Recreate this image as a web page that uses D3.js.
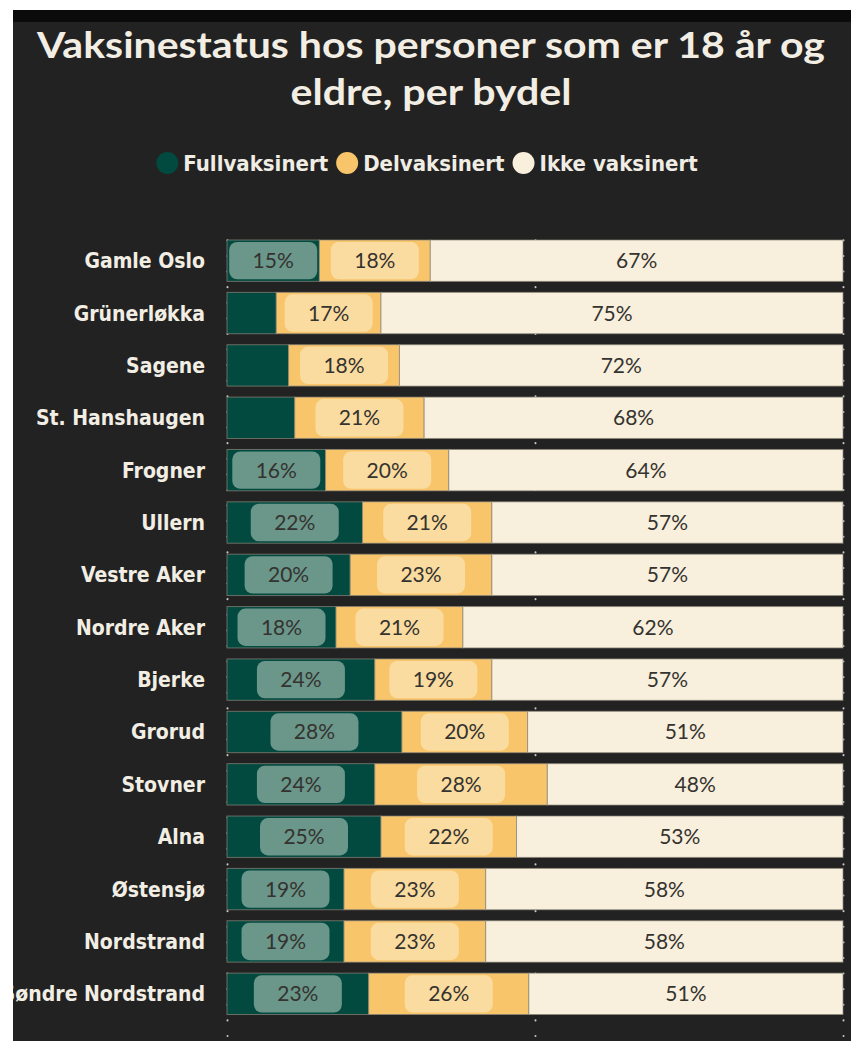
<!DOCTYPE html>
<html>
<head>
<meta charset="utf-8">
<script src="https://cdn.jsdelivr.net/npm/d3@7"></script>
<style>
  body{margin:0;background:#ffffff;}
  text{font-family:Lato,"DejaVu Sans",sans-serif;}
  .cond{font-family:"DejaVu Sans Condensed","DejaVu Sans",sans-serif;font-stretch:condensed;}
</style>
</head>
<body>
<div id="chart-area"></div>
<script>
// data (percent of people 18+)
var bydeler=["Gamle Oslo","Grünerløkka","Sagene","St. Hanshaugen","Frogner","Ullern","Vestre Aker",
  "Nordre Aker","Bjerke","Grorud","Stovner","Alna","Østensjø","Nordstrand","Søndre Nordstrand"];
var fullvaksinert=[15,8,10,11,16,22,20,17.7,24,28.4,24,25,19,19,23];
var delvaksinert=[18,17,18,21,20,21,23,20.6,19,20.4,28,22,23,23,26];
var ikkeVaksinert=[67,75,72,68,64,57,57,61.7,57,51.2,48,53,58,58,51];
var seriesNames=["Fullvaksinert","Delvaksinert","Ikke vaksinert"];
var gridTicks=[0,50,100];

var width=851, height=1041;
var colors=["#02493f","#f8c56b","#f8efdc"];
var labelBg=["#6b968a","#fbdca0","#f8efdc"];

var svg=d3.select("#chart-area").append("svg")
  .attr("width",width)
  .attr("height",height);

svg.append("defs").append("clipPath")
  .attr("id","panel")
  .append("rect")
  .attr("x",13).attr("y",10).attr("width",838).attr("height",1031);

var panel=svg.append("g").attr("clip-path","url(#panel)");

panel.append("rect")
  .attr("x",13).attr("y",10).attr("width",838).attr("height",1031)
  .attr("fill","#222222");
panel.append("rect")
  .attr("x",13).attr("y",10).attr("width",838).attr("height",12)
  .attr("fill","#0b0b0b");

// title
var title=panel.append("text")
  .attr("text-anchor","middle")
  .attr("font-size","36px")
  .attr("font-weight","bold")
  .attr("fill","#f2eee4");
title.append("tspan").attr("x",431).attr("y",58)
  .attr("textLength",788).attr("lengthAdjust","spacingAndGlyphs")
  .text("Vaksinestatus hos personer som er 18 år og");
title.append("tspan").attr("x",431).attr("y",105)
  .attr("textLength",281).attr("lengthAdjust","spacingAndGlyphs")
  .text("eldre, per bydel");

// legend
var legend=panel.append("g");
var lx=0;
seriesNames.forEach(function(d,i){
  var item=legend.append("g").attr("transform","translate("+lx+",0)");
  item.append("circle")
    .attr("cx",11).attr("cy",0).attr("r",11)
    .attr("fill",colors[i]);
  var t=item.append("text")
    .attr("class","cond")
    .attr("x",27).attr("y",8)
    .attr("font-size","22px")
    .attr("font-weight","bold")
    .attr("fill","#f0ede4")
    .text(d);
  lx+=27+t.node().getComputedTextLength()+8;
});
lx-=8;
legend.attr("transform","translate("+(427-lx/2)+",163)");

// scales
var x=d3.scaleLinear().domain([0,100]).range([227,843]);
var y=d3.scaleBand().domain(bydeler).range([234.5,1020])
  .paddingInner(0.21).paddingOuter(0.105);

// dotted gridlines
var gridAxis=d3.axisBottom(x)
  .tickValues(gridTicks)
  .tickSize(-(1036-228))
  .tickFormat("");
panel.append("g")
  .attr("class","grid")
  .attr("transform","translate(0,1036)")
  .call(gridAxis)
  .call(function(g){g.select(".domain").remove();})
  .selectAll("line")
    .attr("stroke","#c8c8c8")
    .attr("stroke-width",2)
    .attr("stroke-linecap","round")
    .attr("stroke-dasharray","0.1,15.5");

// category axis labels
panel.append("g").selectAll("text")
  .data(bydeler)
  .enter().append("text")
    .attr("class","cond")
    .attr("x",205)
    .attr("y",function(d){return y(d)+y.bandwidth()/2+7.5;})
    .attr("text-anchor","end")
    .attr("font-size","21px")
    .attr("font-weight","bold")
    .attr("fill","#f2eee4")
    .text(function(d){return d;});

// stacked bars
var rows=bydeler.map(function(d,i){
  return {bydel:d,s0:fullvaksinert[i],s1:delvaksinert[i],s2:ikkeVaksinert[i]};
});
var stack=d3.stack().keys(["s0","s1","s2"]);
var layers=stack(rows);

var groups=panel.append("g").selectAll("g")
  .data(layers)
  .enter().append("g")
    .attr("fill",function(d,i){return colors[i];});

groups.selectAll("rect")
  .data(function(d){return d;})
  .enter().append("rect")
    .attr("x",function(d){return x(d[0]);})
    .attr("y",function(d){return y(d.data.bydel);})
    .attr("width",function(d){return x(d[1])-x(d[0]);})
    .attr("height",y.bandwidth())
    .attr("stroke","#8d887b")
    .attr("stroke-opacity",0.7)
    .attr("stroke-width",1);

// data labels with rounded backgrounds, hidden when segment is too narrow
var lblW=88;
layers.forEach(function(layer,i){
  var fits=layer.filter(function(d){return x(d[1])-x(d[0])>=lblW;});
  var lg=panel.append("g");
  lg.selectAll("rect")
    .data(fits)
    .enter().append("rect")
      .attr("x",function(d){return (x(d[0])+x(d[1]))/2-lblW/2;})
      .attr("y",function(d){return y(d.data.bydel)+2;})
      .attr("width",lblW)
      .attr("height",y.bandwidth()-4)
      .attr("rx",8)
      .attr("fill",labelBg[i]);
  lg.selectAll("text")
    .data(fits)
    .enter().append("text")
      .attr("x",function(d){return (x(d[0])+x(d[1]))/2;})
      .attr("y",function(d){return y(d.data.bydel)+y.bandwidth()/2+7.5;})
      .attr("text-anchor","middle")
      .attr("font-size","21px")
      .attr("fill","#34332f")
      .text(function(d){return Math.round(d[1]-d[0])+"%";});
});
</script>
</body>
</html>
